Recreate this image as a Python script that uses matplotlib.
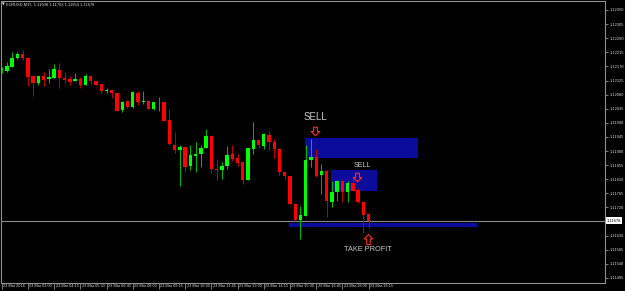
import numpy as np
import matplotlib
matplotlib.use("Agg")
import matplotlib.pyplot as plt
from matplotlib.patches import Rectangle
from matplotlib.path import Path
import matplotlib.transforms as mtransforms

# EURUSD M15, 23 Mar 2016
opens = [1.12158, 1.12156, 1.12168, 1.12196, 1.12210, 1.12198, 1.12140, 1.12117, 1.12140, 1.12130,
         1.12134, 1.12159, 1.12134, 1.12131, 1.12123, 1.12131, 1.12111, 1.12140, 1.12123, 1.12114,
         1.12093, 1.12094, 1.12085, 1.12031, 1.12059, 1.12039, 1.12086, 1.12055, 1.12060, 1.12034,
         1.12055, 1.12058, 1.11999, 1.11920, 1.11904, 1.11913, 1.11853, 1.11885, 1.11891, 1.11910,
         1.11949, 1.11844, 1.11838, 1.11853, 1.11889, 1.11879, 1.11865, 1.11808, 1.11907, 1.11936,
         1.11917, 1.11952, 1.11928, 1.11906, 1.11833, 1.11819, 1.11732, 1.11681, 1.11694, 1.11872,
         1.11881, 1.11822, 1.11837, 1.11739, 1.11768, 1.11803, 1.11770, 1.11798, 1.11776, 1.11737,
         1.11698]
highs = [1.12168, 1.12183, 1.12217, 1.12215, 1.12223, 1.12199, 1.12141, 1.12141, 1.12153, 1.12162,
         1.12178, 1.12180, 1.12153, 1.12139, 1.12148, 1.12135, 1.12145, 1.12143, 1.12124, 1.12115,
         1.12100, 1.12095, 1.12086, 1.12060, 1.12062, 1.12090, 1.12092, 1.12092, 1.12062, 1.12058,
         1.12071, 1.12058, 1.12034, 1.11962, 1.11920, 1.11914, 1.11920, 1.11929, 1.11920, 1.11970,
         1.11950, 1.11876, 1.11866, 1.11917, 1.11918, 1.11889, 1.11866, 1.11911, 1.11992, 1.11939,
         1.11959, 1.11965, 1.11940, 1.11907, 1.11834, 1.11820, 1.11733, 1.11725, 1.11920, 1.11938,
         1.11906, 1.11859, 1.11838, 1.11803, 1.11808, 1.11808, 1.11806, 1.11814, 1.11781, 1.11738,
         1.11703]
lows = [1.12149, 1.12153, 1.12167, 1.12195, 1.12191, 1.12109, 1.12076, 1.12111, 1.12106, 1.12118,
        1.12133, 1.12100, 1.12116, 1.12111, 1.12122, 1.12100, 1.12110, 1.12113, 1.12110, 1.12085,
        1.12085, 1.12069, 1.12028, 1.12026, 1.12038, 1.12037, 1.12048, 1.12050, 1.12033, 1.12031,
        1.12029, 1.11997, 1.11919, 1.11893, 1.11789, 1.11833, 1.11838, 1.11832, 1.11849, 1.11909,
        1.11830, 1.11808, 1.11811, 1.11844, 1.11867, 1.11853, 1.11796, 1.11807, 1.11890, 1.11909,
        1.11906, 1.11904, 1.11877, 1.11822, 1.11810, 1.11730, 1.11678, 1.11619, 1.11693, 1.11849,
        1.11818, 1.11764, 1.11688, 1.11721, 1.11742, 1.11739, 1.11739, 1.11772, 1.11735, 1.11638,
        1.11654]
closes = [1.12160, 1.12172, 1.12198, 1.12211, 1.12196, 1.12137, 1.12117, 1.12140, 1.12128, 1.12137,
          1.12161, 1.12134, 1.12127, 1.12121, 1.12130, 1.12111, 1.12141, 1.12122, 1.12111, 1.12092,
          1.12094, 1.12085, 1.12029, 1.12058, 1.12039, 1.12089, 1.12055, 1.12060, 1.12034, 1.12057,
          1.12057, 1.11997, 1.11921, 1.11904, 1.11913, 1.11850, 1.11886, 1.11891, 1.11911, 1.11949,
          1.11843, 1.11838, 1.11853, 1.11888, 1.11876, 1.11863, 1.11808, 1.11909, 1.11936, 1.11918,
          1.11955, 1.11928, 1.11907, 1.11832, 1.11819, 1.11732, 1.11681, 1.11697, 1.11872, 1.11881,
          1.11821, 1.11837, 1.11741, 1.11768, 1.11805, 1.11768, 1.11798, 1.11773, 1.11736, 1.11697,
          1.11678]

time_labels = ["23 Mar 2016", "23 Mar 03:00", "23 Mar 04:15", "23 Mar 05:30", "23 Mar 06:45",
               "23 Mar 08:00", "23 Mar 09:15", "23 Mar 10:30", "23 Mar 11:45", "23 Mar 13:00",
               "23 Mar 14:15", "23 Mar 15:30", "23 Mar 16:45", "23 Mar 18:00", "23 Mar 19:15"]
label_bars = [0, 5, 10, 15, 20, 25, 30, 35, 40, 45, 50, 55, 60, 65, 70]
price_ticks = [1.12350 - 0.00045 * k for k in range(20)]

# zones: (bar from, bar to, price low, price high)
sell_zone_1 = (57.9, 79.4, 1.11879, 1.11943)
sell_zone_2 = (62.8, 71.6, 1.11771, 1.11840)
tp_zone = (54.8, 90.7, 1.11658, 1.11670)

o = np.array(opens)
h = np.array(highs)
l = np.array(lows)
c = np.array(closes)
idx = np.arange(len(o))
up = c >= o

fig = plt.figure(figsize=(6.25, 2.91), dpi=100, facecolor="black")
ax = fig.add_axes([1 / 625, 8 / 291, 604 / 625, 282 / 291], facecolor="black")

# zones behind candles
for x0, x1, y0, y1 in [sell_zone_1, sell_zone_2, tp_zone]:
    ax.add_patch(Rectangle((x0, y0), x1 - x0, y1 - y0, facecolor="#0b0b9c",
                           edgecolor="none", zorder=1))

# price line
ax.axhline(c[-1], color="#8a8a8a", lw=0.8, zorder=2)

# candles
body = np.maximum(np.abs(c - o), 0.00003)
bottom = np.minimum(o, c)
ax.vlines(idx[up], l[up], h[up], color="#00b400", lw=0.75, zorder=3)
ax.vlines(idx[~up], l[~up], h[~up], color="#b80000", lw=0.75, zorder=3)
ax.bar(idx[up], body[up], bottom=bottom[up], width=0.64, color="#00ff00", lw=0, zorder=4)
ax.bar(idx[~up], body[~up], bottom=bottom[~up], width=0.64, color="#ff0000", lw=0, zorder=4)

ax.set_xlim(-0.13, 115.1)
ax.set_ylim(1.11479, 1.123787)

# axes look
for s in ax.spines.values():
    s.set_color("#909090")
    s.set_linewidth(0.8)

# the tick label nearest the current price is hidden behind the price tag
ylabels = []
for p in price_ticks:
    if abs(p - c[-1]) < 0.0002:
        ylabels.append("")
    else:
        ylabels.append("%.5f" % p)

ax.yaxis.tick_right()
ax.set_yticks(price_ticks)
ax.set_yticklabels(ylabels)
ax.tick_params(axis="y", colors="#909090", length=2, width=0.6, pad=1.5,
               labelsize=2.9, labelcolor="#d8d8d8")
ax.set_xticks(label_bars)
ax.set_xticklabels(time_labels)
ax.tick_params(axis="x", colors="#909090", length=4, width=0.6, pad=-3.2,
               labelsize=2.8, labelcolor="#d8d8d8")
shift = mtransforms.ScaledTranslation(1.5 / 100, 0, fig.dpi_scale_trans)
for lbl in ax.get_xticklabels() + ax.get_yticklabels():
    lbl.set_fontfamily("Liberation Sans")
for lbl in ax.get_xticklabels():
    lbl.set_horizontalalignment("left")
    lbl.set_transform(lbl.get_transform() + shift)

# header
ax.text(0.002, 0.988, "\u25bc", transform=ax.transAxes, color="#d8d8d8",
        fontsize=2.6, va="center", ha="left")
ax.text(0.0085, 0.988, "EURUSD,M15  1.11698 1.11703 1.11654 1.11678",
        transform=ax.transAxes, color="#d8d8d8", fontsize=2.9, va="center",
        ha="left", family="Liberation Sans")

# current price tag
tag = mtransforms.blended_transform_factory(ax.transAxes, ax.transData)
ax.text(1.003, c[-1], "%.5f" % c[-1], transform=tag, fontsize=2.9, color="black",
        va="center", ha="left", family="Liberation Sans",
        bbox=dict(facecolor="white", edgecolor="none", pad=0.8))

# annotations
ax.text(59.8, 1.12009, "SELL", color="#c8c8c8", fontsize=7, ha="center",
        va="center", family="Liberation Sans", zorder=6)
ax.text(68.8, 1.11854, "SELL", color="#c8c8c8", fontsize=5.1, ha="center",
        va="center", family="Liberation Sans", zorder=6)
ax.text(69.8, 1.11585, "TAKE PROFIT", color="#c8c8c8", fontsize=5.3, ha="center",
        va="center", family="Liberation Sans", zorder=6)

down_arrow = Path([(-0.22, 0.5), (0.22, 0.5), (0.22, 0.0), (0.5, 0.0), (0.0, -0.5),
                   (-0.5, 0.0), (-0.22, 0.0), (-0.22, 0.5)], closed=True)
up_arrow = Path([(-0.17, -0.5), (0.17, -0.5), (0.17, 0.05), (0.4, 0.05), (0.0, 0.5),
                 (-0.4, 0.05), (-0.17, 0.05), (-0.17, -0.5)], closed=True)
ax.plot([59.8], [1.11965], marker=down_arrow, ms=6.2, mfc="none", mec="#ff2a2a",
        mew=0.8, ls="none", zorder=6)
ax.plot([67.8], [1.11818], marker=down_arrow, ms=6.2, mfc="none", mec="#ff2a2a",
        mew=0.8, ls="none", zorder=6)
ax.plot([69.9], [1.11620], marker=up_arrow, ms=7.3, mfc="none", mec="#ff2a2a",
        mew=0.8, ls="none", zorder=6)

fig.savefig("out.png", dpi=100, facecolor="black")
